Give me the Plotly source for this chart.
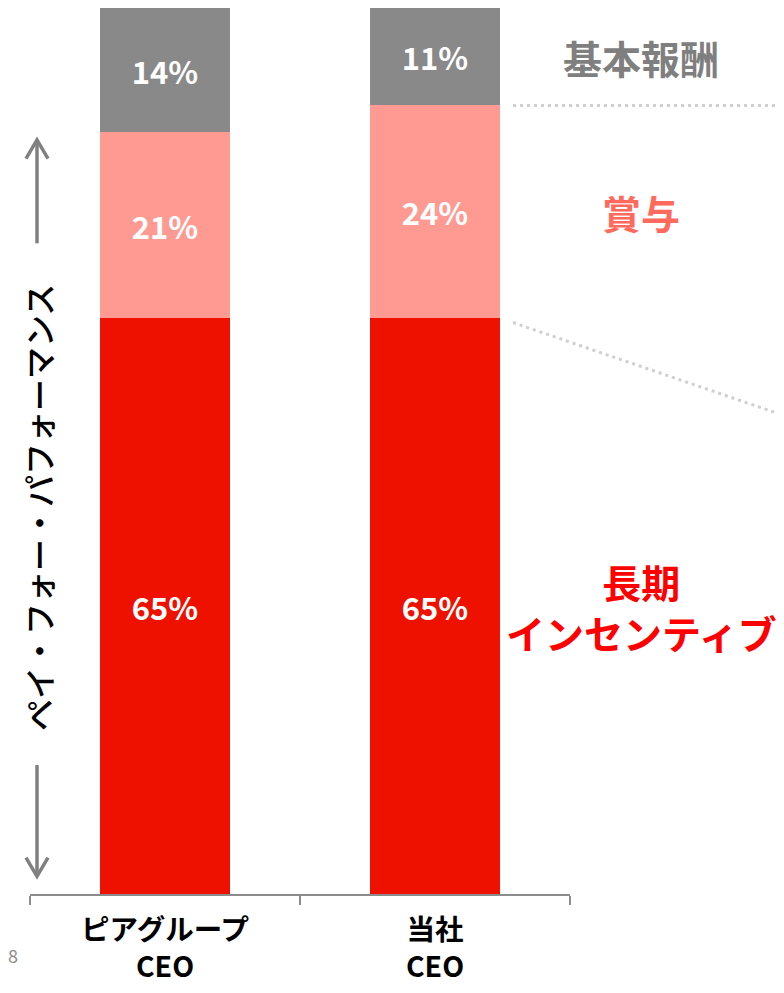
import plotly.graph_objects as go

categories = ["ピアグループ<br>CEO", "当社<br>CEO"]
series_names = ["長期<br>インセンティブ", "賞与", "基本報酬"]
long_term = [65, 65]
bonus = [21, 24]
base_pay = [14, 11]
bar_colors = ["#EE1100", "#FF9A92", "#898989"]
label_colors = ["#FF0000", "#FF6A5C", "#7F7F7F"]
side_text = "ペイ・フォー・パフォーマンス"
page_no = "8"

FONT = "Noto Sans CJK JP"
OFF = 8  # default page body margin
W, H = 784 - 2 * OFF, 993 - 2 * OFF
ML, MT = 30 - OFF, 8 - OFF
MB = H - (908 - OFF)
MR = W - (570 - OFF)
PW = W - ML - MR
PH = H - MT - MB


def px(xp):
    # window pixel -> paper x
    return (xp - OFF - ML) / PW


def py(yp):
    # window pixel -> paper y
    return (H - MB - (yp - OFF)) / PH


fig = go.Figure()
series = [long_term, bonus, base_pay]
for name, vals, col in zip(series_names, series, bar_colors):
    fig.add_trace(go.Bar(
        x=categories, y=vals, name=name.replace("<br>", ""),
        marker=dict(color=col, line=dict(width=0)),
        texttemplate="%{y}%", textposition="inside",
        insidetextanchor="middle", textangle=0,
        textfont=dict(family=FONT, size=31, color="white", weight="bold"),
        hoverinfo="skip",
    ))

annotations = []
cum = 0
for name, vals, col in zip(series_names, series, label_colors):
    mid = cum + vals[1] / 2
    cum += vals[1]
    annotations.append(dict(
        text=name, xref="paper", yref="y", x=px(641), y=mid,
        xanchor="center", yanchor="middle", showarrow=False,
        font=dict(family=FONT, size=39, color=col, weight="bold"),
    ))

annotations.append(dict(
    text=side_text, xref="paper", yref="paper", x=px(38), y=py(516),
    xanchor="center", yanchor="middle", textangle=-90, showarrow=False,
    font=dict(family=FONT, size=32, color="black", weight=500),
))
annotations.append(dict(
    text=page_no, xref="paper", yref="paper", x=px(13), y=py(985),
    xanchor="center", yanchor="bottom", showarrow=False,
    font=dict(family=FONT, size=18, color="#8C8C8C"),
))

arrow_col = "#808080"
shapes = [
    dict(type="line", xref="paper", yref="y", x0=px(513), x1=px(800),
         y0=100 - base_pay[1], y1=100 - base_pay[1],
         line=dict(color="#CFCFCF", width=3, dash="3px,4px")),
    dict(type="line", xref="paper", yref="y", x0=px(513), x1=px(784),
         y0=long_term[1] - 0.5, y1=54,
         line=dict(color="#CFCFCF", width=3, dash="3px,4px")),
    dict(type="line", xref="paper", yref="paper", x0=px(37), x1=px(37),
         y0=py(247), y1=py(143), line=dict(color=arrow_col, width=3.5)),
    dict(type="path", xref="paper", yref="paper",
         path=f"M {px(26)} {py(161)} L {px(37)} {py(142)} L {px(48)} {py(161)}",
         line=dict(color=arrow_col, width=3.5)),
    dict(type="line", xref="paper", yref="paper", x0=px(37), x1=px(37),
         y0=py(777), y1=py(888), line=dict(color=arrow_col, width=3.5)),
    dict(type="path", xref="paper", yref="paper",
         path=f"M {px(26)} {py(871)} L {px(37)} {py(890)} L {px(48)} {py(871)}",
         line=dict(color=arrow_col, width=3.5)),
]

fig.update_layout(
    width=W, height=H, barmode="stack", bargap=0.515,
    margin=dict(l=ML, r=MR, t=MT, b=MB),
    paper_bgcolor="white", plot_bgcolor="white", showlegend=False,
    annotations=annotations, shapes=shapes,
    xaxis=dict(type="category", range=[-0.5, 1.5], showline=True,
               linecolor="#8C8C8C", linewidth=2, ticks="outside",
               tickson="boundaries", ticklen=9, tickwidth=2,
               tickcolor="#8C8C8C", showgrid=False, fixedrange=True,
               ticklabelstandoff=10,
               tickfont=dict(family=FONT, size=28.5, color="black", weight="bold")),
    yaxis=dict(range=[0, 100], visible=False, fixedrange=True),
    font=dict(family=FONT),
)

fig.write_html("out.html", config={"displayModeBar": False})
